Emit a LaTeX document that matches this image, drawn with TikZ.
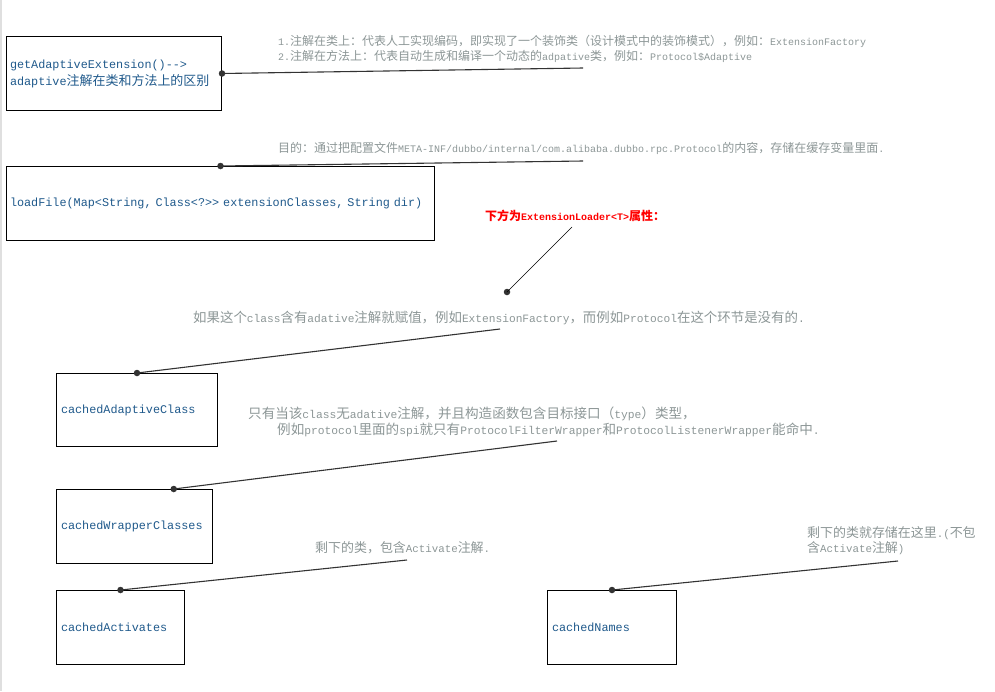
\documentclass[tikz,border=0pt]{standalone}
\usepackage{fontspec}
\setmonofont{Liberation Mono}
\newfontfamily\cjknotefont{Noto Sans CJK SC}[Scale=1.2]
\newfontfamily\cjkboxfont{Noto Sans CJK SC}[Scale=1.1]
\let\cjkfont\cjknotefont
\usepackage {tikz}
\usetikzlibrary {positioning}
\usetikzlibrary{calc}

% switch to the CJK font for Chinese characters
\XeTeXinterchartokenstate=1
\chardef\cjkclass=42
\newcount\cjkcode
\def\setcjkrange#1#2{\cjkcode=#1 \loop\XeTeXcharclass\cjkcode=\cjkclass
  \ifnum\cjkcode<#2 \advance\cjkcode by 1 \repeat}
\setcjkrange{"3000}{"303F}
\setcjkrange{"4E00}{"9FFF}
\setcjkrange{"FF00}{"FFEF}
\XeTeXinterchartoks 0 \cjkclass = {\cjkfont}
\XeTeXinterchartoks 4095 \cjkclass = {\cjkfont}
\XeTeXinterchartoks \cjkclass 0 = {\ttfamily}
\XeTeXinterchartoks \cjkclass 4095 = {\ttfamily}

\definecolor{codeblue}{RGB}{31,89,139}
\definecolor{notegray}{RGB}{140,150,150}
\definecolor{linegray}{RGB}{51,51,51}

\tikzset{
    codebox/.style = {draw, line width=1pt, inner ysep=0pt, align=left,
        anchor=north west, text=codeblue,
        font=\let\cjkfont\cjkboxfont\fontsize{11.8}{17}\selectfont\ttfamily},
    note/.style = {anchor=west, inner sep=0pt, align=left, text=notegray},
    rednote/.style = {anchor=west, inner sep=0pt, text=red,
        font=\fontsize{10}{12}\selectfont\ttfamily\bfseries},
    dot/.style = {circle, fill=linegray, inner sep=0pt, minimum size=6.5pt},
    link/.style = {draw=linegray, line width=1.1pt},
    thinlink/.style = {draw=black, line width=0.6pt}}

\begin{document}
\begin{tikzpicture}[x=1pt,y=-1pt]
    \useasboundingbox (0,0) rectangle (995,691);
    \draw[gray!25, line width=1.5pt] (0.75,0) -- (0.75,691);

    \node[codebox, inner xsep=3.5pt, text width=208pt, minimum height=74pt] (ext) at (6,36)
        {getAdaptiveExtension()-{}-{}>\\adaptive注解在类和方法上的区别};
    \node[codebox, inner xsep=3.5pt, text width=421pt, minimum height=74pt] (load) at (6,166)
        {loadFile(Map<String, Class<?>> extensionClasses, String dir)};
    \node[codebox, inner xsep=4.5pt, text width=152pt, minimum height=73pt] (adapt) at (56,373)
        {cachedAdaptiveClass};
    \node[codebox, inner xsep=4.5pt, text width=147pt, minimum height=74pt] (wrap) at (56,489)
        {cachedWrapperClasses};
    \node[codebox, inner xsep=4.5pt, text width=119pt, minimum height=74pt] (act) at (56,590)
        {cachedActivates};
    \node[codebox, inner xsep=4.5pt, text width=120pt, minimum height=74pt] (names) at (547,590)
        {cachedNames};

    \node[note, font=\fontsize{10}{15.5}\selectfont\ttfamily] (extnote) at (278,49)
        {1.注解在类上：代表人工实现编码，即实现了一个装饰类（设计模式中的装饰模式），例如：ExtensionFactory\\
         2.注解在方法上：代表自动生成和编译一个动态的adpative类，例如：Protocol\$Adaptive};
    \node[note, font=\fontsize{10}{12}\selectfont\ttfamily] (loadnote) at (278,148)
        {目的：通过把配置文件META-INF/dubbo/internal/com.alibaba.dubbo.rpc.Protocol的内容，存储在缓存变量里面.};
    \node[rednote] (fields) at (485,216) {下方为ExtensionLoader<T>属性：};
    \node[note, font=\fontsize{11.2}{14}\selectfont\ttfamily] (adaptnote) at (193,318)
        {如果这个class含有adative注解就赋值，例如ExtensionFactory，而例如Protocol在这个环节是没有的.};
    \node[note, font=\fontsize{11.3}{16}\selectfont\ttfamily] (wrapnote) at (248,422)
        {只有当该class无adative注解，并且构造函数包含目标接口（type）类型，\\
         \hspace*{29pt}例如protocol里面的spi就只有ProtocolFilterWrapper和ProtocolListenerWrapper能命中.};
    \node[note, font=\fontsize{10.8}{13}\selectfont\ttfamily] (actnote) at (315,548)
        {剩下的类，包含Activate注解.};
    \node[note, font=\fontsize{10.8}{15}\selectfont\ttfamily] (namesnote) at (807,540.5)
        {剩下的类就存储在这里.(不包\\含Activate注解)};

    \node[dot] (extdot) at (ext.east) {};
    \node[dot] (loaddot) at (load.north) {};
    \node[dot] (fielddot) at (507,292) {};
    \node[dot] (adaptdot) at (adapt.north) {};
    \node[dot] (wrapdot) at ($(wrap.north west)!0.75!(wrap.north east)$) {};
    \node[dot] (actdot) at (act.north) {};
    \node[dot] (namesdot) at (names.north) {};

    \coordinate (extend) at (583,68);
    \coordinate (loadend) at (583,161);
    \coordinate (fieldend) at (572,227);
    \coordinate (adaptend) at (500,329);
    \coordinate (wrapend) at (557,441);
    \coordinate (actend) at (407,560);
    \coordinate (namesend) at (898,561);

    \draw[link] (extdot.center) -- (extend);
    \draw[link] (loaddot.center) -- (loadend);
    \draw[thinlink] (fielddot.center) -- (fieldend);
    \draw[link] (adaptdot.center) -- (adaptend);
    \draw[link] (wrapdot.center) -- (wrapend);
    \draw[link] (actdot.center) -- (actend);
    \draw[link] (namesdot.center) -- (namesend);
\end{tikzpicture}
\end{document}
